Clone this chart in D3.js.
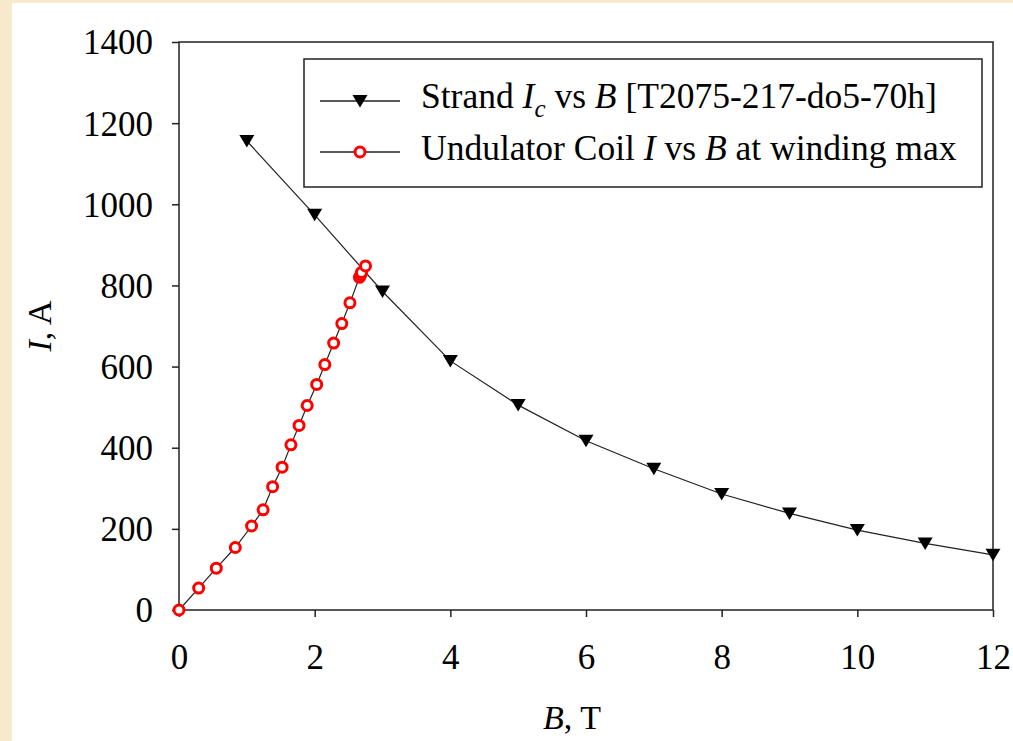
<!DOCTYPE html>
<meta charset="utf-8">
<style>

body {
  margin: 0;
  background: #f7eacc;
}

svg {
  display: block;
}

text {
  font-family: "Liberation Serif", "Times New Roman", serif;
  fill: #000;
}

.frame {
  fill: none;
  stroke: #222;
  stroke-width: 1.5px;
}

.curve {
  fill: none;
  stroke: #222;
  stroke-width: 1.2px;
}

.tri {
  fill: #000;
}

.ring {
  fill: #fff;
  stroke: #f00;
  stroke-width: 3px;
}

</style>
<body>
<script src="https://cdn.jsdelivr.net/npm/d3@7"></script>
<script>

var width = 1013,
    height = 741;

// strand critical current vs field
var strandB = [1, 2, 3, 4, 5, 6, 7, 8, 9, 10, 11, 12];
var strandI = [1156, 974, 785, 614, 505, 417, 348, 286, 238, 197, 164, 136];

// coil load line (current vs peak field in the winding)
var coilB = [0, 0.29, 0.55, 0.83, 1.07, 1.24, 1.38, 1.52, 1.65, 1.77, 1.89, 2.03, 2.15, 2.28, 2.40, 2.52,
             2.66, 2.68, 2.69, 2.75];
var coilI = [0, 54, 103, 154, 207, 247, 304, 352, 407, 455, 504, 556, 605, 658, 706, 757,
             820, 826, 832, 848];

var xTicks = [0, 2, 4, 6, 8, 10, 12];
var yTicks = [0, 200, 400, 600, 800, 1000, 1200, 1400];

var svg = d3.select("body").append("svg")
    .attr("width", width)
    .attr("height", height);

// white page area
svg.append("rect")
    .attr("x", 12)
    .attr("y", 3)
    .attr("width", width - 12)
    .attr("height", height - 3)
    .attr("fill", "#fff");

var x = d3.scaleLinear().domain([0, 12]).range([179, 993]);
var y = d3.scaleLinear().domain([0, 1400]).range([610, 42]);

// axes
var xAxis = svg.append("g")
    .attr("transform", "translate(0," + y(0) + ")")
    .call(d3.axisBottom(x).tickValues(xTicks).tickFormat(d3.format("d")).tickSize(7));

var yAxis = svg.append("g")
    .attr("transform", "translate(" + x(0) + ",0)")
    .call(d3.axisLeft(y).tickValues(yTicks).tickFormat(d3.format("d")).tickSize(7));

[xAxis, yAxis].forEach(function(g) {
  g.select(".domain").remove();
  g.selectAll(".tick line").attr("stroke", "#222").attr("stroke-width", 1.5);
  g.selectAll(".tick text")
      .style("font-family", "Liberation Serif")
      .style("font-size", "35px")
      .attr("fill", "#000");
});
xAxis.selectAll(".tick text").attr("dy", null).attr("y", 59);
yAxis.selectAll(".tick text").attr("x", -26).attr("dy", "0.34em");

// plot frame
svg.append("rect")
    .attr("class", "frame")
    .attr("x", x(0))
    .attr("y", y(1400))
    .attr("width", x(12) - x(0))
    .attr("height", y(0) - y(1400));

var line = d3.line()
    .x(function(d) { return x(d[0]); })
    .y(function(d) { return y(d[1]); });

var strand = d3.zip(strandB, strandI);
var coil = d3.zip(coilB, coilI);

var triangle = "M-7.5,-6L7.5,-6L0,6.5Z";

svg.append("path")
    .datum(strand)
    .attr("class", "curve")
    .attr("d", line);

svg.append("path")
    .datum(coil)
    .attr("class", "curve")
    .attr("d", line);

svg.selectAll(".tri.pt")
    .data(strand)
  .enter().append("path")
    .attr("class", "tri pt")
    .attr("d", triangle)
    .attr("transform", function(d) { return "translate(" + x(d[0]) + "," + y(d[1]) + ")"; });

svg.selectAll(".ring.pt")
    .data(coil)
  .enter().append("circle")
    .attr("class", "ring pt")
    .attr("r", 5)
    .attr("cx", function(d) { return x(d[0]); })
    .attr("cy", function(d) { return y(d[1]); });

// legend
var legend = svg.append("g");

legend.append("rect")
    .attr("class", "frame")
    .attr("x", 304)
    .attr("y", 59)
    .attr("width", 678)
    .attr("height", 128);

var rows = [101, 152];
rows.forEach(function(ry) {
  legend.append("line")
      .attr("x1", 320).attr("x2", 400)
      .attr("y1", ry).attr("y2", ry)
      .attr("stroke", "#222")
      .attr("stroke-width", 1.5);
});

legend.append("path")
    .attr("class", "tri")
    .attr("d", triangle)
    .attr("transform", "translate(360," + rows[0] + ")");

legend.append("circle")
    .attr("class", "ring")
    .attr("r", 5)
    .attr("cx", 360)
    .attr("cy", rows[1]);

var t1 = legend.append("text")
    .attr("x", 421)
    .attr("y", rows[0] + 7)
    .style("font-size", "35.5px");
t1.append("tspan").text("Strand ");
t1.append("tspan").style("font-style", "italic").text("I");
t1.append("tspan").style("font-style", "italic").style("font-size", "25px").attr("dy", 9).text("c");
t1.append("tspan").attr("dy", -9).text(" vs ");
t1.append("tspan").style("font-style", "italic").text("B");
t1.append("tspan").text(" [T2075-217-do5-70h]");

var t2 = legend.append("text")
    .attr("x", 421)
    .attr("y", rows[1] + 8)
    .style("font-size", "35.5px");
t2.append("tspan").text("Undulator Coil ");
t2.append("tspan").style("font-style", "italic").text("I");
t2.append("tspan").text(" vs ");
t2.append("tspan").style("font-style", "italic").text("B");
t2.append("tspan").text(" at winding max");

// axis titles
var xt = svg.append("text")
    .attr("x", 572)
    .attr("y", 729)
    .attr("text-anchor", "middle")
    .style("font-size", "34px");
xt.append("tspan").style("font-style", "italic").text("B");
xt.append("tspan").text(", T");

var yt = svg.append("text")
    .attr("transform", "translate(51,326) rotate(-90)")
    .attr("text-anchor", "middle")
    .style("font-size", "34px");
yt.append("tspan").style("font-style", "italic").text("I");
yt.append("tspan").text(", A");

</script>
